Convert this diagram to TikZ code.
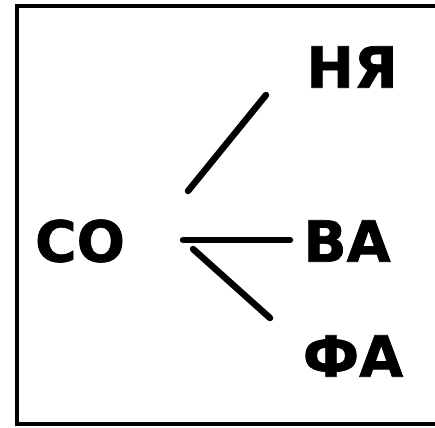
\documentclass[tikz,border=0pt]{standalone}
\usepackage{fontspec}
\setmainfont{DejaVu Sans}[BoldFeatures={FakeBold=1.2}]
\usetikzlibrary{calc}

\begin{document}
\begin{tikzpicture}[x=1bp,y=-1bp,
    syl/.style={inner sep=0pt,font=\fontsize{57}{62}\selectfont\bfseries},
    link/.style={line width=6.5bp,line cap=round},
    frame/.style={line width=4.5bp}]
  \useasboundingbox (0,0) rectangle (435,427);
  \draw[frame] (440,6) -| (17,424) -- (440,424);
  \node[syl] (co) at (80,241) {СО};
  \node[syl] (nya) at (352,67) {НЯ};
  \node[syl] (va) at (347,241) {ВА};
  \node[syl] (fa) at (353,356) {ФА};
  \draw[link] ($(co)+(108,-50)$) -- ($(nya)+(-86,28)$);
  \draw[link] ($(co)+(103,-1)$) -- ($(va)+(-57,-1)$);
  \draw[link] ($(co)+(113,8)$) -- ($(fa)+(-83,-38)$);
\end{tikzpicture}
\end{document}
